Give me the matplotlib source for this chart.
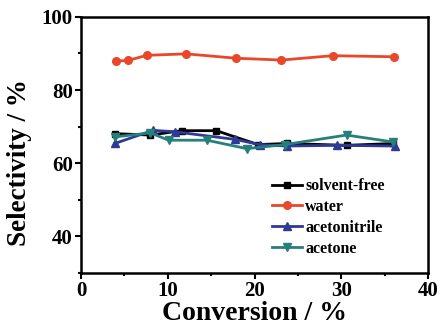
import matplotlib
matplotlib.use('Agg')
from matplotlib import pyplot as plt
from matplotlib.ticker import MultipleLocator

plt.rcParams['font.family'] = 'Liberation Serif'
plt.rcParams['font.weight'] = 'bold'

# conversion (%) and selectivity (%) for each solvent
x_free = [3.9, 8.0, 11.6, 15.6, 20.4, 23.7, 30.6, 36.0]
y_free = [68.1, 67.7, 68.9, 68.9, 65.1, 65.4, 64.9, 65.4]

x_water = [4.0, 5.4, 7.6, 12.1, 17.9, 23.1, 29.0, 36.1]
y_water = [87.9, 88.1, 89.5, 89.9, 88.7, 88.2, 89.4, 89.1]

x_acn = [3.9, 8.3, 10.8, 17.8, 20.6, 23.7, 29.5, 36.2]
y_acn = [65.4, 69.0, 68.6, 66.5, 65.1, 64.7, 64.9, 64.7]

x_acetone = [3.9, 8.0, 10.1, 14.5, 19.1, 23.5, 30.6, 36.0]
y_acetone = [67.2, 68.3, 66.3, 66.3, 64.0, 65.1, 67.7, 65.8]

fig = plt.figure(figsize=(4.4, 3.25), dpi=100)
ax = fig.add_axes([0.184, 0.16, 0.789, 0.788])

ax.plot(x_free, y_free, color='black', marker='s', ms=5, lw=2, label='solvent-free')
ax.plot(x_water, y_water, color='#E8472B', marker='o', ms=5.5, lw=2, label='water')
ax.plot(x_acn, y_acn, color='#2E3A94', marker='^', ms=6, lw=2, label='acetonitrile')
ax.plot(x_acetone, y_acetone, color='#267F7A', marker='v', ms=6, lw=2, label='acetone')

ax.set_xlim(0, 40)
ax.set_ylim(30, 100)
ax.xaxis.set_major_locator(MultipleLocator(10))
ax.xaxis.set_minor_locator(MultipleLocator(5))
ax.yaxis.set_minor_locator(MultipleLocator(10))
ax.set_yticks([40, 60, 80, 100])
ax.tick_params(which='major', direction='out', length=4, width=1.5, labelsize=15, pad=2)
ax.tick_params(which='minor', direction='out', length=2.5, width=1.5)
for s in ax.spines.values():
    s.set_linewidth(1.8)

ax.set_xlabel('Conversion / %', fontsize=20, fontweight='bold', labelpad=0)
ax.set_ylabel('Selectivity / %', fontsize=19.5, fontweight='bold')
ax.yaxis.set_label_coords(-0.14, 0.43)

ax.legend(loc='upper left', bbox_to_anchor=(0.55, 0.37), frameon=False,
          fontsize=11.5, handlelength=1.9, handletextpad=0.2, labelspacing=0.3,
          borderaxespad=0, borderpad=0)

fig.savefig('out.png', dpi=100)
